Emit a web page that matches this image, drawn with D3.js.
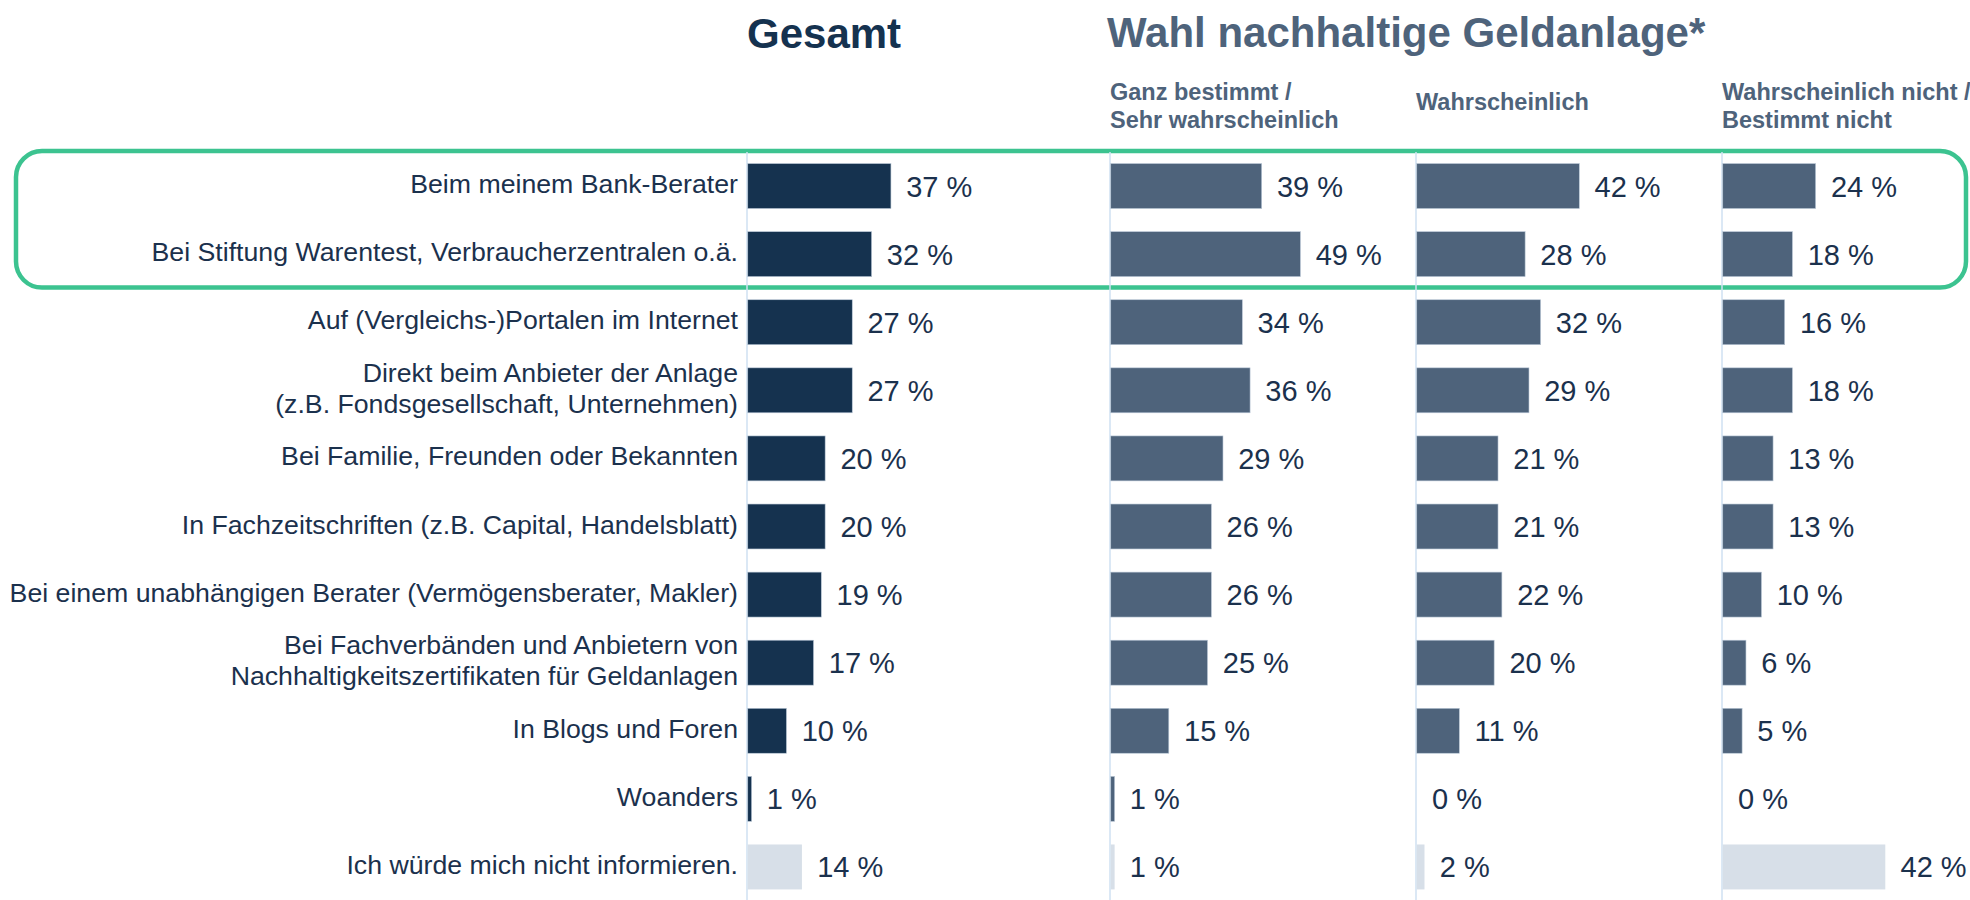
<!DOCTYPE html>
<html>
<head>
<meta charset="utf-8">
<script src="https://cdn.jsdelivr.net/npm/d3@7"></script>
<style>
  html, body { margin: 0; padding: 0; background: #fff; overflow: hidden; }
  svg { display: block; font-family: Arial, "Liberation Sans", sans-serif; }
</style>
</head>
<body>
<div id="chart"></div>
<script>
const categories = [
    "Beim meinem Bank-Berater",
    "Bei Stiftung Warentest, Verbraucherzentralen o.ä.",
    "Auf (Vergleichs-)Portalen im Internet",
    "Direkt beim Anbieter der Anlage|(z.B. Fondsgesellschaft, Unternehmen)",
    "Bei Familie, Freunden oder Bekannten",
    "In Fachzeitschriften (z.B. Capital, Handelsblatt)",
    "Bei einem unabhängigen Berater (Vermögensberater, Makler)",
    "Bei Fachverbänden und Anbietern von|Nachhaltigkeitszertifikaten für Geldanlagen",
    "In Blogs und Foren",
    "Woanders",
    "Ich würde mich nicht informieren."
];
const gesamt = [37, 32, 27, 27, 20, 20, 19, 17, 10, 1, 14];
const ganzBestimmt = [39, 49, 34, 36, 29, 26, 26, 25, 15, 1, 1];
const wahrscheinlich = [42, 28, 32, 29, 21, 21, 22, 20, 11, 0, 2];
const wahrscheinlichNicht = [24, 18, 16, 18, 13, 13, 10, 6, 5, 0, 42];
const seriesHeaders = ["", "Ganz bestimmt /|Sehr wahrscheinlich", "Wahrscheinlich", "Wahrscheinlich nicht /|Bestimmt nicht"];
const groupTitles = ["Gesamt", "Wahl nachhaltige Geldanlage*"];

const width = 1970, height = 900;
const panelX = [747, 1110, 1416, 1722];
const series = [gesamt, ganzBestimmt, wahrscheinlich, wahrscheinlichNicht];

const navy = "#15324f", slate = "#4e637b", light = "#d7dfe8", textCol = "#1b314d";

const svg = d3.select("#chart").append("svg").attr("width", width).attr("height", height);

const y = d3.scaleBand().domain(categories).range([152, 901]).paddingInner(0.34).paddingOuter(0.17);
const x = d3.scaleLinear().domain([0, 100]).range([0, 387]);

// highlight box around first two rows
const boxTop = y(categories[0]) - 12.5;
const boxBottom = y(categories[1]) + y.bandwidth() + 11;
svg.append("rect")
    .attr("x", 16).attr("y", boxTop)
    .attr("width", 1966 - 16).attr("height", boxBottom - boxTop)
    .attr("rx", 26).attr("ry", 26)
    .attr("fill", "none").attr("stroke", "#3cc390").attr("stroke-width", 4.5);

// titles
svg.append("text").attr("x", panelX[0]).attr("y", 48)
    .attr("font-size", 42).attr("font-weight", "bold").attr("fill", navy).text(groupTitles[0]);
svg.append("text").attr("x", 1107).attr("y", 47)
    .attr("font-size", 42).attr("font-weight", "bold").attr("fill", slate).text(groupTitles[1]);

seriesHeaders.forEach((h, i) => {
    if (!h) return;
    const lines = h.split("|");
    const base = lines.length === 1 ? 110 : 100;
    const t = svg.append("text").attr("font-size", 23.5).attr("font-weight", "bold").attr("fill", slate);
    lines.forEach((l, j) => {
        t.append("tspan").attr("x", panelX[i]).attr("y", base + j * 28).text(l);
    });
});

// category labels
categories.forEach(c => {
    const lines = c.split("|");
    const cy = y(c) + y.bandwidth() / 2;
    const t = svg.append("text").attr("text-anchor", "end").attr("font-size", 26.7).attr("fill", textCol);
    lines.forEach((l, j) => {
        const off = lines.length === 1 ? 7 : (j === 0 ? -8.5 : 22.5);
        t.append("tspan").attr("x", 738).attr("y", cy + off).text(l);
    });
});

// axis lines
panelX.forEach(px => {
    svg.append("line").attr("x1", px).attr("x2", px).attr("y1", 152).attr("y2", height)
        .attr("stroke", "#cfe1f2").attr("stroke-width", 1.5);
});

// bars + value labels
series.forEach((vals, si) => {
    const g = svg.append("g").attr("transform", `translate(${panelX[si]},0)`);
    const rows = categories.map((c, i) => ({ c, v: vals[i], i }));
    g.selectAll("rect")
        .data(rows.filter(d => d.v > 0))
        .join("rect")
        .attr("x", 0.75)
        .attr("y", d => y(d.c))
        .attr("width", d => Math.max(x(d.v), 2.5))
        .attr("height", y.bandwidth())
        .attr("fill", d => d.i === categories.length - 1 ? light : (si === 0 ? navy : slate))
        .attr("stroke", d => d.i === categories.length - 1 ? "none" : "#b9c7d6")
        .attr("stroke-width", 0.6);
    g.selectAll("text")
        .data(rows)
        .join("text")
        .attr("x", d => x(d.v) + 16)
        .attr("y", d => y(d.c) + y.bandwidth() / 2 + 10.5)
        .attr("font-size", 29)
        .attr("fill", textCol)
        .text(d => d.v + " %");
});
</script>
</body>
</html>
